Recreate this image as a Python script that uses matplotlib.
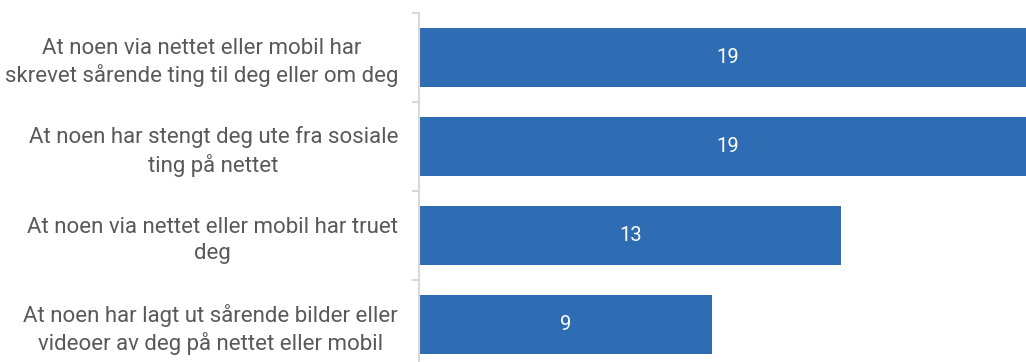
import matplotlib.pyplot as plt
from matplotlib.ticker import FixedLocator

categories = [
    "At noen via nettet eller mobil har\nskrevet sårende ting til deg eller om deg",
    "At noen har stengt deg ute fra sosiale\nting på nettet",
    "At noen via nettet eller mobil har truet\ndeg",
    "At noen har lagt ut sårende bilder eller\nvideoer av deg på nettet eller mobil",
]
values = [19, 19, 13, 9]

bar_color = "#2e6db4"
text_color = "#595959"
axis_color = "#d9d9d9"

plt.rcParams['font.family'] = ['Roboto', 'DejaVu Sans']

fig = plt.figure(figsize=(10.26, 3.62), dpi=100)
# axes reaches a bit below the figure so the last bar sits near the bottom edge
ax = fig.add_axes([419 / 1026, -7 / 362, 607 / 1026, 356 / 362])

ypos = list(range(len(values)))
bars = ax.barh(ypos, values, height=0.665, color=bar_color, left=0)

for b, v in zip(bars, values):
    ax.text(v / 2, b.get_y() + b.get_height() / 2, str(v), ha='center', va='center',
            color='white', fontsize=14.5)

ax.set_xlim(0, 607 / 32.5)
ax.set_ylim(len(values) - 0.5, -0.5)

ax.set_yticks(ypos)
ax.set_yticklabels(categories, fontsize=16, color=text_color, linespacing=1.3)
for lbl in ax.get_yticklabels():
    lbl.set_multialignment('center')
ax.tick_params(axis='y', which='major', length=0, pad=15)
ax.yaxis.set_minor_locator(FixedLocator([i - 0.5 for i in range(len(values) + 1)]))
ax.tick_params(axis='y', which='minor', length=5, width=1.5, color=axis_color)

ax.set_xticks([])
for s in ['top', 'right', 'bottom']:
    ax.spines[s].set_visible(False)
ax.spines['left'].set_color(axis_color)
ax.spines['left'].set_linewidth(1.5)

fig.savefig("out.png", dpi=100)
